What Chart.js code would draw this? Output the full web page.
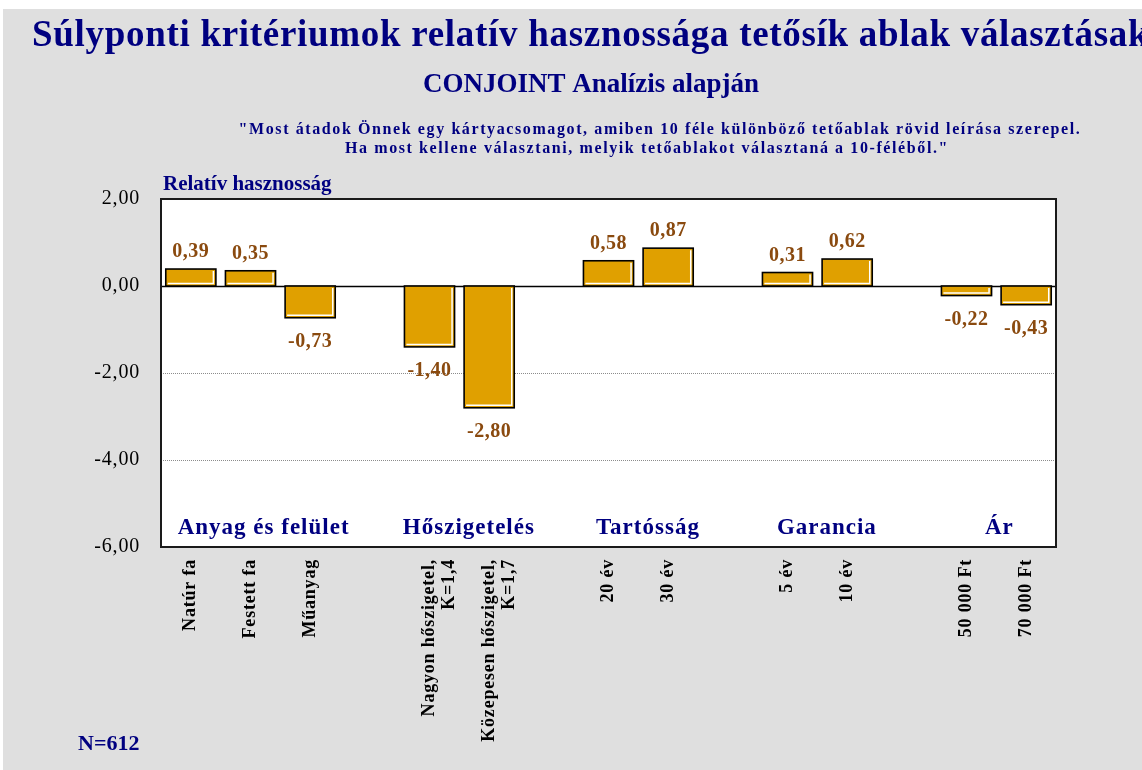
<!DOCTYPE html>
<html>
<head>
<meta charset="utf-8">
<script src="https://cdn.jsdelivr.net/npm/chart.js@4/dist/chart.umd.min.js"></script>
<style>
  html, body { margin: 0; padding: 0; background: #ffffff; }
  #wrap { width: 1142px; height: 770px; position: relative; }
</style>
</head>
<body>
<div id="wrap"><canvas id="utilChart" width="1142" height="770"></canvas></div>
<script>
// Data (empty slots separate the groups)
const categories = [
    'Natúr fa', 'Festett fa', 'Műanyag', '',
    ['Nagyon hőszigetel,', 'K=1,4'], ['Közepesen hőszigetel,', 'K=1,7'], '',
    '20 év', '30 év', '',
    '5 év', '10 év', '',
    '50 000 Ft', '70 000 Ft'
];
const utilities = [0.39, 0.35, -0.73, null, -1.40, -2.80, null, 0.58, 0.87, null, 0.31, 0.62, null, -0.22, -0.43];
const groupNames = ['Anyag és felület', 'Hőszigetelés', 'Tartósság', 'Garancia', 'Ár'];
const groupCenters = [1.22, 4.66, 7.66, 10.66, 13.55]; // category index at which each group name sits
const yTicks = [2, 0, -2, -4, -6];

const titleText = 'Súlyponti kritériumok relatív hasznossága tetősík ablak választásakor';
const subtitleText = 'CONJOINT Analízis alapján';
const questionLines = [
    '"Most átadok Önnek egy kártyacsomagot, amiben 10 féle különböző tetőablak rövid leírása szerepel.',
    'Ha most kellene választani, melyik tetőablakot választaná a 10-féléből."'
];
const axisTitle = 'Relatív hasznosság';
const sampleNote = 'N=612';

const SERIF = '"Liberation Serif", "Times New Roman", serif';
const BLUE = '#000080';
const BROWN = '#8a4a0f';
const TICK_SPACING = '0.8px';

function fmt(v) {
    return v.toFixed(2).replace('.', ',');
}

const decorPlugin = {
    id: 'decor',
    beforeLayout(chart) {
        // slightly looser letters for the axis texts, like the original
        chart.ctx.letterSpacing = TICK_SPACING;
    },
    beforeDraw(chart) {
        const c = chart.ctx;
        c.letterSpacing = TICK_SPACING;
        c.save();
        c.fillStyle = '#dfdfdf';
        c.fillRect(3, 9, chart.width - 3, chart.height - 9);

        c.fillStyle = BLUE;
        c.textBaseline = 'alphabetic';
        c.textAlign = 'left';
        c.letterSpacing = '0.7px';
        c.font = 'bold 37px ' + SERIF;
        c.fillText(titleText, 32, 46);

        c.textAlign = 'center';
        c.letterSpacing = '0px';
        c.font = 'bold 27px ' + SERIF;
        c.fillText(subtitleText, 591, 92);

        c.font = 'bold 16px ' + SERIF;
        c.letterSpacing = '1.6px';
        c.fillText(questionLines[0], 660, 134);
        c.fillText(questionLines[1], 647, 153);

        c.textAlign = 'left';
        c.letterSpacing = '0px';
        c.font = 'bold 21px ' + SERIF;
        c.fillText(axisTitle, 163, 190);
        c.font = 'bold 22px ' + SERIF;
        c.fillText(sampleNote, 78, 750);
        c.restore();
    },
    beforeDatasetsDraw(chart) {
        const c = chart.ctx;
        const a = chart.chartArea;
        const y = chart.scales.y;
        c.save();
        c.fillStyle = '#ffffff';
        c.fillRect(a.left, a.top, a.right - a.left, a.bottom - a.top);
        yTicks.forEach(function(t) {
            if (t === 0 || t === yTicks[0] || t === yTicks[yTicks.length - 1]) return;
            const py = Math.round(y.getPixelForValue(t)) + 0.5;
            c.strokeStyle = '#8c8c8c';
            c.lineWidth = 1;
            c.setLineDash([1, 1]);
            c.beginPath();
            c.moveTo(a.left, py);
            c.lineTo(a.right, py);
            c.stroke();
        });
        c.setLineDash([]);
        const zy = Math.round(y.getPixelForValue(0)) + 0.5;
        c.strokeStyle = '#000000';
        c.lineWidth = 1.5;
        c.beginPath();
        c.moveTo(a.left, zy);
        c.lineTo(a.right, zy);
        c.stroke();
        c.restore();
    },
    afterDatasetsDraw(chart) {
        const c = chart.ctx;
        const a = chart.chartArea;
        const meta = chart.getDatasetMeta(0);
        const x = chart.scales.x;
        c.save();
        meta.data.forEach(function(bar, i) {
            const v = utilities[i];
            if (v === null) return;
            const p = bar.getProps(['x', 'y', 'base', 'width'], true);
            const l = p.x - p.width / 2, r = p.x + p.width / 2;
            const t = Math.min(p.y, p.base), b = Math.max(p.y, p.base);
            // white inner edge right and bottom
            c.strokeStyle = '#ffffff';
            c.lineWidth = 1.5;
            c.beginPath();
            c.moveTo(r - 2.5, t + 2);
            c.lineTo(r - 2.5, b - 2.5);
            c.lineTo(l + 2, b - 2.5);
            c.stroke();
            // black outline
            c.strokeStyle = '#000000';
            c.lineWidth = 1.6;
            c.strokeRect(l, t, r - l, b - t);
            // value label
            c.fillStyle = BROWN;
            c.font = 'bold 20px ' + SERIF;
            c.letterSpacing = '0.5px';
            c.textAlign = 'center';
            c.textBaseline = 'alphabetic';
            if (v >= 0) {
                c.fillText(fmt(v), p.x, t - 12);
            } else {
                c.fillText(fmt(v), p.x, b + 29);
            }
        });
        // group names inside the plot
        c.fillStyle = BLUE;
        c.font = 'bold 23px ' + SERIF;
        c.textAlign = 'center';
        c.textBaseline = 'alphabetic';
        c.letterSpacing = '1px';
        groupNames.forEach(function(name, i) {
            const gx = x.getPixelForValue(groupCenters[i]);
            c.fillText(name, gx, a.bottom - 13);
        });
        // plot frame
        c.strokeStyle = '#1a1a1a';
        c.lineWidth = 2;
        c.strokeRect(a.left, a.top, a.right - a.left, a.bottom - a.top);
        c.restore();
    }
};

document.addEventListener('DOMContentLoaded', function() {
    const ctx = document.getElementById('utilChart');
    new Chart(ctx, {
        type: 'bar',
        data: {
            labels: categories,
            datasets: [{
                data: utilities,
                backgroundColor: '#e0a000',
                borderWidth: 0,
                barPercentage: 0.84,
                categoryPercentage: 1
            }]
        },
        options: {
            responsive: false,
            animation: false,
            layout: { padding: { top: 199, right: 86, left: 0, bottom: 0 } },
            plugins: {
                legend: { display: false },
                tooltip: { enabled: false }
            },
            scales: {
                x: {
                    grid: { display: false, drawTicks: false },
                    border: { display: false },
                    afterFit: function(scale) { scale.height = 223; },
                    ticks: {
                        autoSkip: false,
                        maxRotation: 90,
                        minRotation: 90,
                        padding: 12,
                        color: '#000000',
                        font: { family: SERIF, size: 18, weight: 'bold', lineHeight: 1.1 }
                    }
                },
                y: {
                    min: -6,
                    max: 2,
                    afterFit: function(scale) { scale.width = 161; },
                    afterBuildTicks: function(scale) {
                        scale.ticks = yTicks.map(function(v) { return { value: v }; });
                    },
                    grid: { display: false, drawTicks: false },
                    border: { display: false },
                    ticks: {
                        padding: 21,
                        color: '#000000',
                        font: { family: SERIF, size: 20 },
                        callback: function(v) { return fmt(v); }
                    }
                }
            }
        },
        plugins: [decorPlugin]
    });
});
</script>
</body>
</html>
